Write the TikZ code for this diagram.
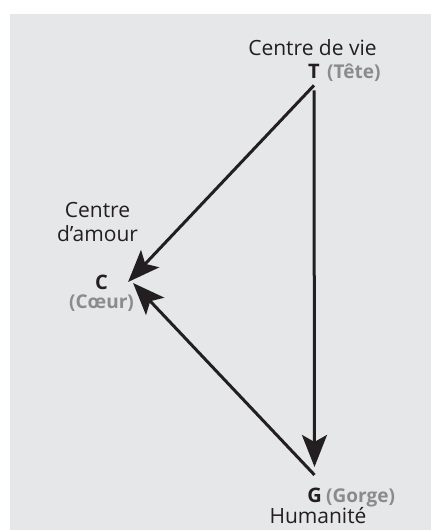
\documentclass[tikz,border=0pt]{standalone}
\usepackage{fontspec}
\setmainfont{Open Sans}
\usetikzlibrary{arrows.meta,positioning}
\definecolor{fondgris}{HTML}{E6E7E8}
\definecolor{textegris}{HTML}{8A8B8D}
\definecolor{noir}{HTML}{231F20}
\begin{document}
\begin{tikzpicture}[x=1pt,y=-1pt,>={Stealth[length=32pt,width=25pt,inset=7pt]},
    fleche/.style={->,line width=3pt,draw=noir},
    lettre/.style={inner sep=0pt,font=\fontsize{20}{24}\selectfont\bfseries,text=noir},
    gris/.style={inner sep=0pt,font=\fontsize{19}{23}\selectfont\bfseries,text=textegris},
    titre/.style={inner sep=0pt,font=\fontsize{21}{24}\selectfont,text=noir,align=center}]
    \useasboundingbox (0,0) rectangle (431,530);
    \fill[fondgris] (10,14) rectangle (431,530);

    % Les trois centres
    \node[lettre] (T) at (314,71) {T};
    \node[lettre] (C) at (101.5,282) {C};
    \node[lettre] (G) at (314.5,495.5) {G};

    % Etiquettes
    \node[gris,anchor=base west] (tete) at ([xshift=7pt]T.base east) {(Tête)};
    \node[titre,anchor=base] (vie) at (312.5,55) {Centre de vie};
    \node[titre,anchor=base] (amour) at (97.5,241) {Centre\\d'amour};
    \node[gris,anchor=base] (coeur) at (101.5,308) {(Cœur)};
    \node[gris,anchor=base west] (gorge) at ([xshift=4pt]G.base east) {(Gorge)};
    \node[titre,anchor=base] (huma) at (318,523) {Humanité};

    % Fleches
    \draw[fleche] ([yshift=-7pt]T.south) -- ([xshift=20pt]C.east);
    \draw[fleche] ([yshift=-12pt]T.south) -- ([yshift=21pt]G.north);
    \draw[fleche] ([yshift=13pt]G.north) -- ([xshift=25pt,yshift=-1pt]C.east);
\end{tikzpicture}
\end{document}
